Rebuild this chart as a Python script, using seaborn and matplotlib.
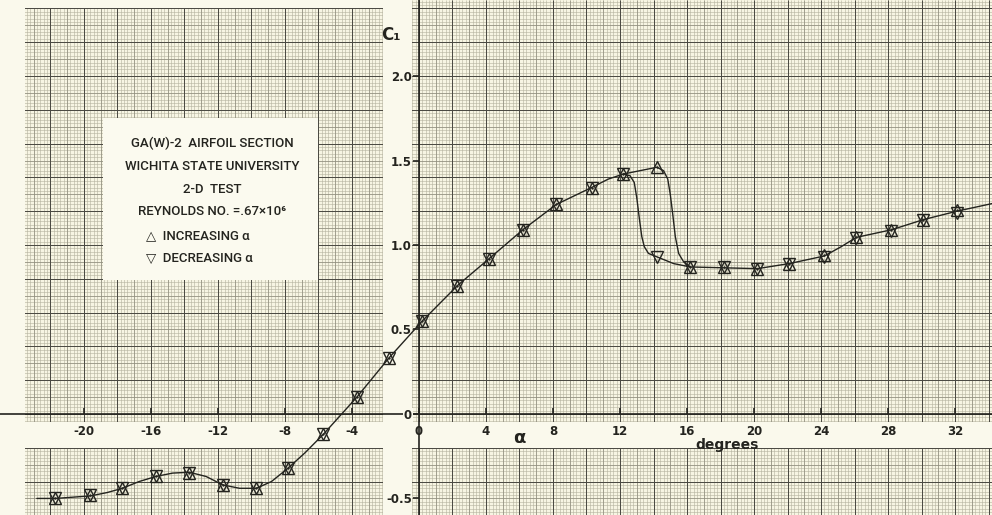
import numpy as np
import matplotlib
matplotlib.use("Agg")
import matplotlib.pyplot as plt
from matplotlib.patches import Rectangle
import seaborn as sns

########################################################################################
# data (alpha in degrees, section lift coefficient C1)
########################################################################################

alpha_inc = [-21.7, -19.6, -17.7, -15.7, -13.7, -11.7, -9.7, -7.8, -5.7, -3.7, -1.8, 0.2,
             2.3, 4.2, 6.2, 8.2, 10.3, 12.2, 14.2, 16.2, 18.2, 20.2, 22.1, 24.2, 26.1,
             28.2, 30.1, 32.1]
cl_inc = [-0.50, -0.48, -0.44, -0.37, -0.35, -0.42, -0.44, -0.32, -0.12, 0.10, 0.33, 0.55,
          0.76, 0.92, 1.09, 1.24, 1.34, 1.42, 1.46, 0.87, 0.87, 0.86, 0.89, 0.94, 1.05,
          1.09, 1.15, 1.21]

alpha_dec = [-21.7, -19.6, -17.7, -15.7, -13.7, -11.7, -9.7, -7.8, -5.7, -3.7, -1.8, 0.2,
             2.3, 4.2, 6.2, 8.2, 10.3, 12.2, 14.2, 16.2, 18.2, 20.2, 22.1, 24.2, 26.1,
             28.2, 30.1, 32.1]
cl_dec = [-0.50, -0.48, -0.44, -0.37, -0.35, -0.42, -0.44, -0.32, -0.12, 0.10, 0.33, 0.55,
          0.76, 0.92, 1.09, 1.24, 1.34, 1.42, 0.93, 0.87, 0.87, 0.86, 0.89, 0.93, 1.04,
          1.08, 1.15, 1.19]

# faired curve
fair_alpha_pre = [-22.8, -21.7, -19.6, -18.6, -17.7, -16.7, -15.7, -14.7, -13.7, -12.7,
                  -11.7, -10.7, -9.7, -8.8, -7.8, -6.8, -5.7, -3.7, -1.8, 0.2, 2.3, 4.2,
                  6.2, 8.2, 10.3, 11.3, 12.2]
fair_cl_pre = [-0.50, -0.50, -0.485, -0.465, -0.44, -0.40, -0.37, -0.35, -0.345, -0.37,
               -0.42, -0.44, -0.44, -0.40, -0.32, -0.23, -0.12, 0.10, 0.33, 0.55, 0.76, 0.92,
               1.09, 1.24, 1.34, 1.39, 1.42]

fair_alpha_inc = [12.2, 13.2, 14.2, 14.6, 14.85, 15.0, 15.15, 15.3, 15.5, 15.8, 16.2]
fair_cl_inc = [1.42, 1.44, 1.46, 1.44, 1.39, 1.30, 1.18, 1.05, 0.95, 0.90, 0.87]

fair_alpha_dec = [12.2, 12.6, 12.85, 13.0, 13.15, 13.3, 13.45, 13.7, 14.2, 15.2, 16.2]
fair_cl_dec = [1.42, 1.41, 1.37, 1.28, 1.16, 1.05, 0.99, 0.95, 0.93, 0.89, 0.87]

fair_alpha_post = [16.2, 18.2, 20.2, 22.1, 24.2, 25.2, 26.1, 28.2, 30.1, 32.1, 34.2]
fair_cl_post = [0.87, 0.865, 0.86, 0.89, 0.935, 0.99, 1.045, 1.09, 1.15, 1.20, 1.245]

x_ticks = [-20, -16, -12, -8, -4, 0, 4, 8, 12, 16, 20, 24, 28, 32]
y_ticks = [-0.5, 0, 0.5, 1.0, 1.5, 2.0]
y_tick_labels = ['-0.5', '0', '0.5', '1.0', '1.5', '2.0']

legend_lines = ['GA(W)-2  AIRFOIL SECTION',
                'WICHITA STATE UNIVERSITY',
                '2-D  TEST',
                'REYNOLDS NO. =.67×10⁶']

########################################################################################

sns.set_style('white')
plt.rcParams['font.family'] = ['DejaVu Sans']

paper = '#f7f5e3'
blank = '#faf9ec'
ink = '#24241f'
narrow = ['Roboto', 'DejaVu Sans']

fig = plt.figure(figsize=(9.92, 5.15), dpi=100)
fig.patch.set_facecolor(blank)
ax = fig.add_axes([0, 0, 1, 1])
ax.set_axisbelow(False)
ax.set_facecolor(paper)
ax.set_xlim(-25.0, 34.2)
ax.set_ylim(-0.598, 2.45)
x0, x1 = ax.get_xlim()
y0, y1 = ax.get_ylim()

# graph paper rulings (fine / medium / heavy)
ax.vlines(np.arange(-25, 34.3, 0.2), y0, y1, colors='#b4b29e', lw=0.4, zorder=0.2)
ax.hlines(np.arange(-0.6, 2.46, 0.02), x0, x1, colors='#b4b29e', lw=0.4, zorder=0.2)
ax.vlines(np.arange(-25, 35, 1), y0, y1, colors='#8f8d7e', lw=0.5, zorder=0.3)
ax.hlines(np.arange(-0.6, 2.5, 0.1), x0, x1, colors='#8f8d7e', lw=0.5, zorder=0.3)
ax.vlines(np.arange(-24, 35, 2), y0, y1, colors='#4a4942', lw=0.7, zorder=0.4)
ax.hlines(np.arange(-0.6, 2.5, 0.2), x0, x1, colors='#4a4942', lw=0.7, zorder=0.4)

# blank strips where the lettering sits
ax.axvspan(-2.15, -0.42, color=blank, lw=0, zorder=0.6)
ax.axhspan(-0.20, -0.047, color=blank, lw=0, zorder=0.6)
ax.axvspan(x0, -23.5, color=blank, lw=0, zorder=0.6)
ax.add_patch(Rectangle((x0, 2.40), -2.15 - x0, y1 - 2.40, color=blank, lw=0, zorder=0.6))

# label box
ax.add_patch(Rectangle((0.104, 0.456), 0.217, 0.315, transform=ax.transAxes,
                       facecolor='#fbfaef', edgecolor='none', zorder=0.7))
box_y = [0.722, 0.676, 0.633, 0.590]
for txt, yy in zip(legend_lines, box_y):
    ax.text(0.214, yy, txt, transform=ax.transAxes, ha='center', va='center',
            fontsize=9.5, family=narrow, fontweight='medium', color=ink, zorder=5)
ax.text(0.147, 0.542, '△  INCREASING α', transform=ax.transAxes, ha='left', va='center',
        fontsize=9.5, family=narrow, fontweight='medium', color=ink, zorder=5)
ax.text(0.147, 0.499, '▽  DECREASING α', transform=ax.transAxes, ha='left', va='center',
        fontsize=9.5, family=narrow, fontweight='medium', color=ink, zorder=5)

# faired curves
for xs, ys in [(fair_alpha_pre, fair_cl_pre), (fair_alpha_inc, fair_cl_inc),
               (fair_alpha_dec, fair_cl_dec), (fair_alpha_post, fair_cl_post)]:
    sns.lineplot(x=xs, y=ys, sort=False, estimator=None, color=ink, lw=1.0, ax=ax, zorder=3)

# test points
sns.lineplot(x=alpha_inc, y=cl_inc, sort=False, estimator=None, marker='^', linestyle='',
             ms=8, mfc='none', mec=ink, mew=1.0, ax=ax, zorder=4)
sns.lineplot(x=alpha_dec, y=cl_dec, sort=False, estimator=None, marker='v', linestyle='',
             ms=8, mfc='none', mec=ink, mew=1.0, ax=ax, zorder=4)
sns.scatterplot(x=alpha_inc, y=cl_inc, s=3, color=ink, linewidth=0, ax=ax, zorder=4)

# axes through the origin
for side in ['top', 'right']:
    ax.spines[side].set_visible(False)
for side in ['left', 'bottom']:
    ax.spines[side].set_position(('data', 0))
    ax.spines[side].set_color(ink)
    ax.spines[side].set_linewidth(1.2)

ax.set_xticks(x_ticks)
ax.set_xticklabels([str(v) for v in x_ticks], fontweight='bold')
ax.set_yticks(y_ticks)
ax.set_yticklabels(y_tick_labels, fontweight='bold')
ax.tick_params(axis='x', which='major', bottom=True, labelbottom=True, direction='in',
               length=4, width=1.2, pad=8, labelsize=8.5, colors=ink)
ax.tick_params(axis='y', which='major', left=True, labelleft=True, direction='out',
               length=4, width=1.2, pad=1, labelsize=8.5, colors=ink)
for lbl in ax.get_yticklabels():
    if lbl.get_text() == '0':
        lbl.set_bbox(dict(facecolor=blank, edgecolor='none', pad=0.5))
ax.set_xlabel('')
ax.set_ylabel('')

ax.text(0.394, 0.932, 'C₁', transform=ax.transAxes, ha='center', va='center',
        fontsize=12, fontweight='bold', color=ink)
ax.text(0.524, 0.149, 'α', transform=ax.transAxes, ha='center', va='center',
        fontsize=13, fontweight='bold', color=ink)
ax.text(0.733, 0.135, 'degrees', transform=ax.transAxes, ha='center', va='center',
        fontsize=10, fontweight='bold', color=ink)

plt.savefig('out.png', dpi=100, facecolor=fig.get_facecolor())
plt.close()
